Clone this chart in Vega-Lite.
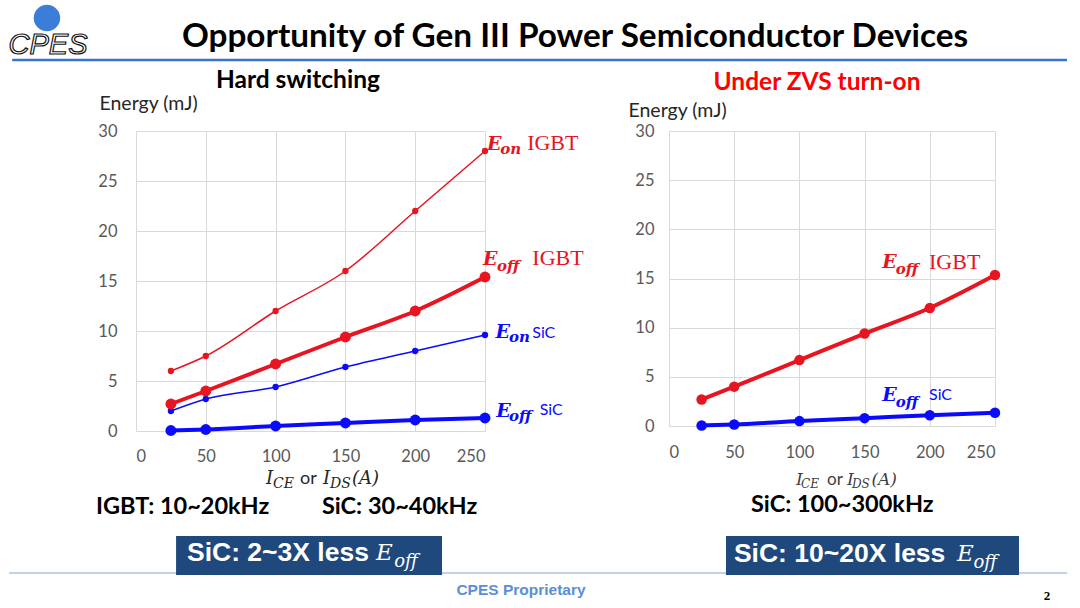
{
  "$schema": "https://vega.github.io/schema/vega-lite/v6.json",
  "autosize": {"type": "pad"},
  "padding": {"left": 8, "top": 4, "right": 0, "bottom": 0},
  "background": "white",
  "bounds": "flush",
  "spacing": 184,
  "config": {
    "font": "Lato",
    "view": {"stroke": null},
    "axis": {
      "grid": true,
      "gridColor": "#d9d9d9",
      "gridWidth": 1,
      "domain": false,
      "ticks": false,
      "tickSize": 0,
      "labelFont": "Lato",
      "labelFontSize": 16.5,
      "labelColor": "#595959",
      "titleFont": "Lato",
      "titleFontSize": 19.5,
      "titleFontWeight": "normal",
      "titleColor": "#262626"
    }
  },
  "datasets": {
    "hard": [
      {"current": 25, "energy": 6.0, "loss": "Eon", "device": "IGBT"},
      {"current": 50, "energy": 7.5, "loss": "Eon", "device": "IGBT"},
      {"current": 100, "energy": 12.0, "loss": "Eon", "device": "IGBT"},
      {"current": 150, "energy": 16.0, "loss": "Eon", "device": "IGBT"},
      {"current": 200, "energy": 22.0, "loss": "Eon", "device": "IGBT"},
      {"current": 250, "energy": 28.0, "loss": "Eon", "device": "IGBT"},
      {"current": 25, "energy": 2.7, "loss": "Eoff", "device": "IGBT"},
      {"current": 50, "energy": 4.0, "loss": "Eoff", "device": "IGBT"},
      {"current": 100, "energy": 6.7, "loss": "Eoff", "device": "IGBT"},
      {"current": 150, "energy": 9.4, "loss": "Eoff", "device": "IGBT"},
      {"current": 200, "energy": 12.0, "loss": "Eoff", "device": "IGBT"},
      {"current": 250, "energy": 15.4, "loss": "Eoff", "device": "IGBT"},
      {"current": 25, "energy": 2.0, "loss": "Eon", "device": "SiC"},
      {"current": 50, "energy": 3.2, "loss": "Eon", "device": "SiC"},
      {"current": 100, "energy": 4.4, "loss": "Eon", "device": "SiC"},
      {"current": 150, "energy": 6.4, "loss": "Eon", "device": "SiC"},
      {"current": 200, "energy": 8.0, "loss": "Eon", "device": "SiC"},
      {"current": 250, "energy": 9.6, "loss": "Eon", "device": "SiC"},
      {"current": 25, "energy": 0.05, "loss": "Eoff", "device": "SiC"},
      {"current": 50, "energy": 0.15, "loss": "Eoff", "device": "SiC"},
      {"current": 100, "energy": 0.5, "loss": "Eoff", "device": "SiC"},
      {"current": 150, "energy": 0.8, "loss": "Eoff", "device": "SiC"},
      {"current": 200, "energy": 1.1, "loss": "Eoff", "device": "SiC"},
      {"current": 250, "energy": 1.3, "loss": "Eoff", "device": "SiC"}
    ],
    "zvs": [
      {"current": 25, "energy": 2.7, "loss": "Eoff", "device": "IGBT"},
      {"current": 50, "energy": 4.0, "loss": "Eoff", "device": "IGBT"},
      {"current": 100, "energy": 6.7, "loss": "Eoff", "device": "IGBT"},
      {"current": 150, "energy": 9.4, "loss": "Eoff", "device": "IGBT"},
      {"current": 200, "energy": 12.0, "loss": "Eoff", "device": "IGBT"},
      {"current": 250, "energy": 15.35, "loss": "Eoff", "device": "IGBT"},
      {"current": 25, "energy": 0.05, "loss": "Eoff", "device": "SiC"},
      {"current": 50, "energy": 0.15, "loss": "Eoff", "device": "SiC"},
      {"current": 100, "energy": 0.5, "loss": "Eoff", "device": "SiC"},
      {"current": 150, "energy": 0.8, "loss": "Eoff", "device": "SiC"},
      {"current": 200, "energy": 1.1, "loss": "Eoff", "device": "SiC"},
      {"current": 250, "energy": 1.35, "loss": "Eoff", "device": "SiC"}
    ],
    "hardNotes": [
      {"kind": "title", "current": 314.5, "energy": 39.4, "text": "Opportunity of Gen III Power Semiconductor Devices"},
      {"kind": "logo", "current": -63, "energy": 38.6, "text": "CPES"},
      {"kind": "panelTitle", "current": 116, "energy": 35, "text": "Hard switching"},
      {"kind": "freq", "current": -28.7, "energy": -7.6, "text": "IGBT: 10~20kHz"},
      {"kind": "freq", "current": 133.2, "energy": -7.6, "text": "SiC: 30~40kHz"},
      {"kind": "boxText", "current": 36.5, "energy": -12.2, "text": "SiC: 2~3X less"},
      {"kind": "boxE", "current": 171.9, "energy": -12.2, "text": "E"},
      {"kind": "boxSub", "current": 185, "energy": -13.1, "text": "off"},
      {"kind": "axI", "current": 93.1, "energy": -4.8, "text": "I"},
      {"kind": "axSub", "current": 98.1, "energy": -5.3, "text": "CE"},
      {"kind": "axOr", "current": 117.5, "energy": -4.8, "text": "or"},
      {"kind": "axI", "current": 134, "energy": -4.8, "text": "I"},
      {"kind": "axSub", "current": 139, "energy": -5.3, "text": "DS"},
      {"kind": "axI", "current": 154.7, "energy": -4.8, "text": "(A)"},
      {"kind": "footer", "current": 275.8, "energy": -15.9, "text": "CPES Proprietary"},
      {"kind": "page", "current": 652.6, "energy": -16.5, "text": "2"},
      {"kind": "E", "device": "IGBT", "current": 251.4, "energy": 28.7, "text": "E"},
      {"kind": "sub", "device": "IGBT", "current": 261.0, "energy": 28.2, "text": "on"},
      {"kind": "serifName", "device": "IGBT", "current": 280.2, "energy": 28.8, "text": "IGBT"},
      {"kind": "E", "device": "IGBT", "current": 248.6, "energy": 17.2, "text": "E"},
      {"kind": "sub", "device": "IGBT", "current": 258.6, "energy": 16.5, "text": "off"},
      {"kind": "serifName", "device": "IGBT", "current": 283.9, "energy": 17.3, "text": "IGBT"},
      {"kind": "E", "device": "SiC", "current": 257.6, "energy": 9.87, "text": "E"},
      {"kind": "sub", "device": "SiC", "current": 267.2, "energy": 9.37, "text": "on"},
      {"kind": "sansName", "device": "SiC", "current": 283.9, "energy": 9.8, "text": "SiC"},
      {"kind": "E", "device": "SiC", "current": 258.1, "energy": 2.03, "text": "E"},
      {"kind": "sub", "device": "SiC", "current": 267.2, "energy": 1.53, "text": "off"},
      {"kind": "sansName", "device": "SiC", "current": 289.2, "energy": 2.1, "text": "SiC"}
    ],
    "zvsNotes": [
      {"kind": "panelTitle", "current": 113.5, "energy": 34.88, "text": "Under ZVS turn-on"},
      {"kind": "freq", "current": 62.9, "energy": -8.03, "text": "SiC: 100~300kHz"},
      {"kind": "boxText", "current": 49.8, "energy": -13.0, "text": "SiC: 10~20X less"},
      {"kind": "boxE", "current": 220.9, "energy": -13.0, "text": "E"},
      {"kind": "boxSub", "current": 233.5, "energy": -13.9, "text": "off"},
      {"kind": "axI", "current": 97.4, "energy": -5.49, "text": "I"},
      {"kind": "axSub", "current": 101.2, "energy": -5.9, "text": "CE"},
      {"kind": "axOr", "current": 121.2, "energy": -5.49, "text": "or"},
      {"kind": "axI", "current": 136.5, "energy": -5.49, "text": "I"},
      {"kind": "axSub", "current": 140.3, "energy": -5.9, "text": "DS"},
      {"kind": "axI", "current": 155.2, "energy": -5.49, "text": "(A)"},
      {"kind": "E", "device": "IGBT", "current": 163.6, "energy": 16.65, "text": "E"},
      {"kind": "sub", "device": "IGBT", "current": 173.9, "energy": 15.96, "text": "off"},
      {"kind": "serifName", "device": "IGBT", "current": 199.4, "energy": 16.71, "text": "IGBT"},
      {"kind": "E", "device": "SiC", "current": 163.6, "energy": 3.15, "text": "E"},
      {"kind": "sub", "device": "SiC", "current": 173.9, "energy": 2.4, "text": "off"},
      {"kind": "sansName", "device": "SiC", "current": 199.4, "energy": 3.15, "text": "SiC"}
    ]
  },
  "hconcat": [
    {
      "width": 349,
      "height": 300,
      "encoding": {
        "x": {
          "field": "current",
          "type": "quantitative",
          "scale": {"domain": [0, 250], "nice": false},
          "axis": {"values": [0, 50, 100, 150, 200, 250], "title": null, "labelPadding": 17}
        },
        "y": {
          "field": "energy",
          "type": "quantitative",
          "scale": {"domain": [0, 30], "nice": false},
          "axis": {
            "values": [0, 5, 10, 15, 20, 25, 30],
            "title": "Energy (mJ)",
            "titleAngle": 0,
            "titleX": -37,
            "titleY": -28,
            "titleAlign": "left",
            "titleBaseline": "middle",
            "labelPadding": 19
          }
        }
      },
      "layer": [
        {
          "data": {"values": [{"current": -88.7, "current2": 666.9, "energy": 37.1}]},
          "mark": {"type": "rule", "color": "#3a6fdc", "strokeWidth": 2.5},
          "encoding": {"x2": {"field": "current2"}}
        },
        {
          "data": {"values": [{"current": -91, "current2": 667, "energy": -14.2}]},
          "mark": {"type": "rule", "color": "#a8c2ea", "strokeWidth": 1.5},
          "encoding": {"x2": {"field": "current2"}}
        },
        {
          "data": {"values": [{"current": -63.8, "energy": 41.3}]},
          "mark": {"type": "point", "filled": true, "size": 700, "color": "#3b7dd8", "opacity": 1}
        },
        {
          "data": {"values": [{"current": 28.7, "current2": 219.2, "energy": -10.5, "energy2": -14.4}]},
          "mark": {"type": "rect", "color": "#1f497d"},
          "encoding": {"x2": {"field": "current2"}, "y2": {"field": "energy2"}}
        },
        {
          "data": {"name": "hard"},
          "transform": [{"filter": "datum.loss == 'Eon'"}],
          "mark": {"type": "line", "strokeWidth": 1.5, "interpolate": "monotone"},
          "encoding": {
            "color": {"field": "device", "type": "nominal", "scale": {"domain": ["IGBT", "SiC"], "range": ["#e8141f", "#0a0aff"]}, "legend": null}
          }
        },
        {
          "data": {"name": "hard"},
          "transform": [{"filter": "datum.loss == 'Eon'"}],
          "mark": {"type": "point", "filled": true, "size": 40, "opacity": 1},
          "encoding": {"color": {"field": "device", "type": "nominal", "legend": null}}
        },
        {
          "data": {"name": "hard"},
          "transform": [{"filter": "datum.loss == 'Eoff'"}],
          "mark": {"type": "line", "strokeWidth": 4, "interpolate": "monotone"},
          "encoding": {"color": {"field": "device", "type": "nominal", "legend": null}}
        },
        {
          "data": {"name": "hard"},
          "transform": [{"filter": "datum.loss == 'Eoff'"}],
          "mark": {"type": "point", "filled": true, "size": 120, "opacity": 1},
          "encoding": {"color": {"field": "device", "type": "nominal", "legend": null}}
        },
        {
          "data": {"name": "hardNotes"},
          "transform": [{"filter": "datum.kind == 'title'"}],
          "mark": {"type": "text", "font": "Lato", "fontSize": 33.3, "fontWeight": "bold", "align": "center", "baseline": "middle", "color": "#000"},
          "encoding": {"text": {"field": "text"}}
        },
        {
          "data": {"name": "hardNotes"},
          "transform": [{"filter": "datum.kind == 'logo'"}],
          "mark": {"type": "text", "font": "Liberation Sans", "fontSize": 29, "fontStyle": "italic", "align": "center", "baseline": "middle", "fill": "#fff", "stroke": "#111", "strokeWidth": 1.2},
          "encoding": {"text": {"field": "text"}}
        },
        {
          "data": {"name": "hardNotes"},
          "transform": [{"filter": "datum.kind == 'panelTitle'"}],
          "mark": {"type": "text", "font": "Lato", "fontSize": 24.5, "fontWeight": "bold", "align": "center", "baseline": "middle", "color": "#000"},
          "encoding": {"text": {"field": "text"}}
        },
        {
          "data": {"name": "hardNotes"},
          "transform": [{"filter": "datum.kind == 'freq'"}],
          "mark": {"type": "text", "font": "Lato", "fontSize": 23.5, "fontWeight": "bold", "align": "left", "baseline": "middle", "color": "#000"},
          "encoding": {"text": {"field": "text"}}
        },
        {
          "data": {"name": "hardNotes"},
          "transform": [{"filter": "datum.kind == 'boxText'"}],
          "mark": {"type": "text", "font": "Liberation Sans", "fontSize": 26.5, "fontWeight": "bold", "align": "left", "baseline": "middle", "color": "#fff"},
          "encoding": {"text": {"field": "text"}}
        },
        {
          "data": {"name": "hardNotes"},
          "transform": [{"filter": "datum.kind == 'boxE'"}],
          "mark": {"type": "text", "font": "DejaVu Serif", "fontSize": 23, "fontStyle": "italic", "align": "left", "baseline": "middle", "color": "#fff"},
          "encoding": {"text": {"field": "text"}}
        },
        {
          "data": {"name": "hardNotes"},
          "transform": [{"filter": "datum.kind == 'boxSub'"}],
          "mark": {"type": "text", "font": "DejaVu Serif", "fontSize": 18, "fontStyle": "italic", "align": "left", "baseline": "middle", "color": "#fff"},
          "encoding": {"text": {"field": "text"}}
        },
        {
          "data": {"name": "hardNotes"},
          "transform": [{"filter": "datum.kind == 'axI'"}],
          "mark": {"type": "text", "font": "DejaVu Serif", "fontSize": 18, "fontStyle": "italic", "align": "left", "baseline": "middle", "color": "#262626"},
          "encoding": {"text": {"field": "text"}}
        },
        {
          "data": {"name": "hardNotes"},
          "transform": [{"filter": "datum.kind == 'axSub'"}],
          "mark": {"type": "text", "font": "DejaVu Serif", "fontSize": 14, "fontStyle": "italic", "align": "left", "baseline": "middle", "color": "#262626"},
          "encoding": {"text": {"field": "text"}}
        },
        {
          "data": {"name": "hardNotes"},
          "transform": [{"filter": "datum.kind == 'axOr'"}],
          "mark": {"type": "text", "font": "Lato", "fontSize": 18, "align": "left", "baseline": "middle", "color": "#262626"},
          "encoding": {"text": {"field": "text"}}
        },
        {
          "data": {"name": "hardNotes"},
          "transform": [{"filter": "datum.kind == 'footer'"}],
          "mark": {"type": "text", "font": "Liberation Sans", "fontSize": 15.5, "fontWeight": "bold", "align": "center", "baseline": "middle", "color": "#5b8ed6"},
          "encoding": {"text": {"field": "text"}}
        },
        {
          "data": {"name": "hardNotes"},
          "transform": [{"filter": "datum.kind == 'page'"}],
          "mark": {"type": "text", "font": "Liberation Serif", "fontSize": 13, "fontWeight": "bold", "align": "center", "baseline": "middle", "color": "#000"},
          "encoding": {"text": {"field": "text"}}
        },
        {
          "data": {"name": "hardNotes"},
          "transform": [{"filter": "datum.kind == 'E'"}],
          "mark": {"type": "text", "font": "DejaVu Serif", "fontSize": 19, "fontWeight": "bold", "fontStyle": "italic", "align": "left", "baseline": "middle"},
          "encoding": {"text": {"field": "text"}, "color": {"field": "device", "type": "nominal", "legend": null}}
        },
        {
          "data": {"name": "hardNotes"},
          "transform": [{"filter": "datum.kind == 'sub'"}],
          "mark": {"type": "text", "font": "DejaVu Serif", "fontSize": 15, "fontWeight": "bold", "fontStyle": "italic", "align": "left", "baseline": "middle"},
          "encoding": {"text": {"field": "text"}, "color": {"field": "device", "type": "nominal", "legend": null}}
        },
        {
          "data": {"name": "hardNotes"},
          "transform": [{"filter": "datum.kind == 'serifName'"}],
          "mark": {"type": "text", "font": "Liberation Serif", "fontSize": 22, "align": "left", "baseline": "middle"},
          "encoding": {"text": {"field": "text"}, "color": {"field": "device", "type": "nominal", "legend": null}}
        },
        {
          "data": {"name": "hardNotes"},
          "transform": [{"filter": "datum.kind == 'sansName'"}],
          "mark": {"type": "text", "font": "Lato", "fontSize": 16, "align": "left", "baseline": "middle"},
          "encoding": {"text": {"field": "text"}, "color": {"field": "device", "type": "nominal", "legend": null}}
        }
      ]
    },
    {
      "width": 326,
      "height": 295,
      "encoding": {
        "x": {
          "field": "current",
          "type": "quantitative",
          "scale": {"domain": [0, 250], "nice": false},
          "axis": {"values": [0, 50, 100, 150, 200, 250], "title": null, "labelPadding": 18}
        },
        "y": {
          "field": "energy",
          "type": "quantitative",
          "scale": {"domain": [0, 30], "nice": false},
          "axis": {
            "values": [0, 5, 10, 15, 20, 25, 30],
            "title": "Energy (mJ)",
            "titleAngle": 0,
            "titleX": -41,
            "titleY": -21,
            "titleAlign": "left",
            "titleBaseline": "middle",
            "labelPadding": 15
          }
        }
      },
      "layer": [
        {
          "data": {"values": [{"current": 43.7, "current2": 268.4, "energy": -11.19, "energy2": -15.15}]},
          "mark": {"type": "rect", "color": "#1f497d"},
          "encoding": {"x2": {"field": "current2"}, "y2": {"field": "energy2"}}
        },
        {
          "data": {"name": "zvs"},
          "mark": {"type": "line", "strokeWidth": 4, "interpolate": "monotone"},
          "encoding": {
            "color": {"field": "device", "type": "nominal", "scale": {"domain": ["IGBT", "SiC"], "range": ["#e8141f", "#0a0aff"]}, "legend": null}
          }
        },
        {
          "data": {"name": "zvs"},
          "mark": {"type": "point", "filled": true, "size": 110, "opacity": 1},
          "encoding": {"color": {"field": "device", "type": "nominal", "legend": null}}
        },
        {
          "data": {"name": "zvsNotes"},
          "transform": [{"filter": "datum.kind == 'panelTitle'"}],
          "mark": {"type": "text", "font": "Lato", "fontSize": 24.5, "fontWeight": "bold", "align": "center", "baseline": "middle", "color": "#ff0000"},
          "encoding": {"text": {"field": "text"}}
        },
        {
          "data": {"name": "zvsNotes"},
          "transform": [{"filter": "datum.kind == 'freq'"}],
          "mark": {"type": "text", "font": "Lato", "fontSize": 23.5, "fontWeight": "bold", "align": "left", "baseline": "middle", "color": "#000"},
          "encoding": {"text": {"field": "text"}}
        },
        {
          "data": {"name": "zvsNotes"},
          "transform": [{"filter": "datum.kind == 'boxText'"}],
          "mark": {"type": "text", "font": "Liberation Sans", "fontSize": 26.5, "fontWeight": "bold", "align": "left", "baseline": "middle", "color": "#fff"},
          "encoding": {"text": {"field": "text"}}
        },
        {
          "data": {"name": "zvsNotes"},
          "transform": [{"filter": "datum.kind == 'boxE'"}],
          "mark": {"type": "text", "font": "DejaVu Serif", "fontSize": 23, "fontStyle": "italic", "align": "left", "baseline": "middle", "color": "#fff"},
          "encoding": {"text": {"field": "text"}}
        },
        {
          "data": {"name": "zvsNotes"},
          "transform": [{"filter": "datum.kind == 'boxSub'"}],
          "mark": {"type": "text", "font": "DejaVu Serif", "fontSize": 18, "fontStyle": "italic", "align": "left", "baseline": "middle", "color": "#fff"},
          "encoding": {"text": {"field": "text"}}
        },
        {
          "data": {"name": "zvsNotes"},
          "transform": [{"filter": "datum.kind == 'axI'"}],
          "mark": {"type": "text", "font": "DejaVu Serif", "fontSize": 17, "fontStyle": "italic", "align": "left", "baseline": "middle", "color": "#404040"},
          "encoding": {"text": {"field": "text"}}
        },
        {
          "data": {"name": "zvsNotes"},
          "transform": [{"filter": "datum.kind == 'axSub'"}],
          "mark": {"type": "text", "font": "DejaVu Serif", "fontSize": 12, "fontStyle": "italic", "align": "left", "baseline": "middle", "color": "#404040"},
          "encoding": {"text": {"field": "text"}}
        },
        {
          "data": {"name": "zvsNotes"},
          "transform": [{"filter": "datum.kind == 'axOr'"}],
          "mark": {"type": "text", "font": "Lato", "fontSize": 17, "align": "left", "baseline": "middle", "color": "#404040"},
          "encoding": {"text": {"field": "text"}}
        },
        {
          "data": {"name": "zvsNotes"},
          "transform": [{"filter": "datum.kind == 'E'"}],
          "mark": {"type": "text", "font": "DejaVu Serif", "fontSize": 19, "fontWeight": "bold", "fontStyle": "italic", "align": "left", "baseline": "middle"},
          "encoding": {"text": {"field": "text"}, "color": {"field": "device", "type": "nominal", "legend": null}}
        },
        {
          "data": {"name": "zvsNotes"},
          "transform": [{"filter": "datum.kind == 'sub'"}],
          "mark": {"type": "text", "font": "DejaVu Serif", "fontSize": 15, "fontWeight": "bold", "fontStyle": "italic", "align": "left", "baseline": "middle"},
          "encoding": {"text": {"field": "text"}, "color": {"field": "device", "type": "nominal", "legend": null}}
        },
        {
          "data": {"name": "zvsNotes"},
          "transform": [{"filter": "datum.kind == 'serifName'"}],
          "mark": {"type": "text", "font": "Liberation Serif", "fontSize": 22, "align": "left", "baseline": "middle"},
          "encoding": {"text": {"field": "text"}, "color": {"field": "device", "type": "nominal", "legend": null}}
        },
        {
          "data": {"name": "zvsNotes"},
          "transform": [{"filter": "datum.kind == 'sansName'"}],
          "mark": {"type": "text", "font": "Lato", "fontSize": 16, "align": "left", "baseline": "middle"},
          "encoding": {"text": {"field": "text"}, "color": {"field": "device", "type": "nominal", "legend": null}}
        }
      ]
    }
  ]
}
